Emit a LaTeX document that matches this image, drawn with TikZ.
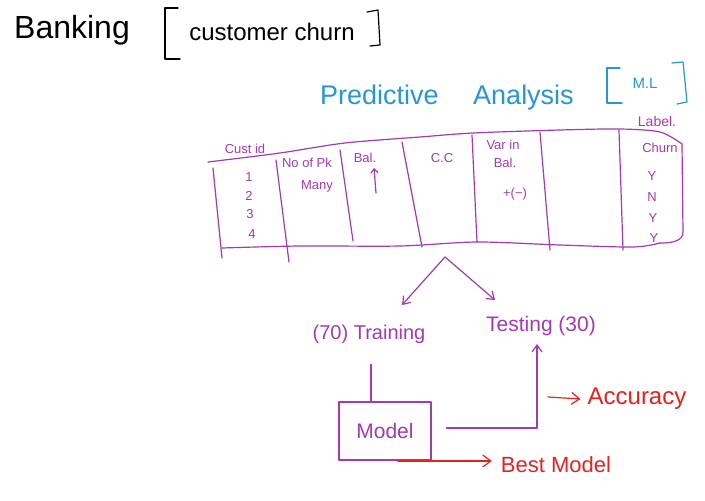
\documentclass[tikz,border=0pt]{standalone}
\usepackage{fontspec}
\setmainfont{Liberation Sans}
\usetikzlibrary{arrows.meta}
\definecolor{pen}{RGB}{160,60,175}
\definecolor{bpen}{RGB}{40,150,210}
\definecolor{rpen}{RGB}{225,35,35}
\tikzset{
  hand/.style={line width=1.2pt, line cap=round, line join=round},
  arr/.style={hand, -{Straight Barb[length=7pt,width=10pt]}},
  rarr/.style={hand, rpen, -{Straight Barb[length=8pt,width=12pt]}},
  txt/.style={inner sep=1pt, anchor=center},
  cell/.style={txt, text=pen, font=\fontsize{13}{14}\selectfont},
}
\begin{document}
\begin{tikzpicture}[x=1pt,y=-1pt]
\useasboundingbox[fill=white] (0,0) rectangle (705,501);

% title
\node[txt, font=\fontsize{32}{34}\selectfont] (bank) at (72,30) {Banking};
\draw[hand] (178,8) -- (165,8) -- (165,59) -- (180,59);
\node[txt, font=\fontsize{24}{26}\selectfont] (cc) at (272,32) {customer churn};
\draw[hand] (367,12) -- (378,10) -- (380,45) -- (370,46);

% predictive analysis
\node[txt, text=bpen, font=\fontsize{27}{29}\selectfont] (pa) at (447,98) {Predictive \quad Analysis};
\draw[hand, bpen] (620,68) -- (607,68) -- (607,103) -- (622,103);
\node[txt, text=bpen, font=\fontsize{15}{16}\selectfont] (ml) at (645,83) {M.L};
\draw[hand, bpen] (672,63) -- (683,62) -- (687,102) -- (677,104);
\node[txt, text=pen, font=\fontsize{14}{15}\selectfont] (label) at (657,121) {Label.};

% table
\draw[hand, pen] plot[smooth] coordinates {(208,162) (280,153) (345,143) (420,137) (473,133) (560,130) (620,129) (660,132) (682,144)};
\draw[hand, pen] (682,144) -- (683,232) to[out=270,in=0] (660,243);
\draw[hand, pen] plot[smooth] coordinates {(222,248) (300,246) (400,246) (477,242) (560,245) (633,247) (660,243)};
\draw[hand, pen] (213,168) -- (222,258);
\draw[hand, pen] (276,160) -- (289,262);
\draw[hand, pen] (340,150) -- (353,241);
\draw[hand, pen] (402,142) -- (422,247);
\draw[hand, pen] (472,135) -- (477,242);
\draw[hand, pen] (540,132) -- (550,250);
\draw[hand, pen] (619,130) -- (623,250);

\node[cell] (custid) at (245,149) {Cust id};
\node[cell] (r1) at (249,177) {1};
\node[cell] (r2) at (249,196) {2};
\node[cell] (r3) at (250,214) {3};
\node[cell] (r4) at (252,234) {4};
\node[cell] (noprod) at (307,163) {No of Pk};
\node[cell] (many) at (317,186) {Many};
\node[cell] (bal) at (365,158) {Bal.};
\draw[hand, pen, -{Straight Barb[length=4pt,width=7pt]}] (376,193) -- (374,168);
\node[cell] (ccard) at (442,158) {C.C};
\node[cell] (var) at (503,145) {Var in};
\node[cell] (vbal) at (505,163) {Bal.};
\node[cell] (pm) at (515,194) {+(−)};
\node[cell] (churn) at (660,148) {Churn};
\node[cell] (c1) at (652,176) {Y};
\node[cell] (c2) at (652,197) {N};
\node[cell] (c3) at (653,218) {Y};
\node[cell] (c4) at (654,238) {Y};

% split
\coordinate (split) at (445,257);
\coordinate (ltip) at (402,305);
\coordinate (rtip) at (495,300);
\draw[arr, pen] (split) -- (ltip);
\draw[arr, pen] (split) -- (rtip);

\node[txt, text=pen, font=\fontsize{20}{22}\selectfont] (train) at (369,334) {(70) Training};
\node[txt, text=pen, font=\fontsize{21}{23}\selectfont] (test) at (541,326) {Testing (30)};

\node[draw=pen, hand, text=pen, minimum width=92pt, minimum height=58pt, font=\fontsize{21}{23}\selectfont] (model) at (385,431) {Model};
\draw[hand, pen, shorten <=20pt] (train.south) ++(2,0) coordinate (tb) -- (model.north -| tb);
\coordinate (bend) at (537,428);
\draw[arr, pen, shorten <=15pt, shorten >=7pt] (model.east |- bend) -- (bend) -- (bend |- test.south);

\node[txt, text=rpen, font=\fontsize{24}{26}\selectfont] (acc) at (637,399) {Accuracy};
\coordinate (accs) at (548,397);
\draw[rarr] (accs) -- ([xshift=-6pt]acc.west);

\node[txt, text=rpen, font=\fontsize{22}{24}\selectfont] (best) at (556,465) {Best Model};
\draw[rarr] ([xshift=13pt]model.south) |- ([xshift=-8pt,yshift=4pt]best.west);
\end{tikzpicture}
\end{document}
